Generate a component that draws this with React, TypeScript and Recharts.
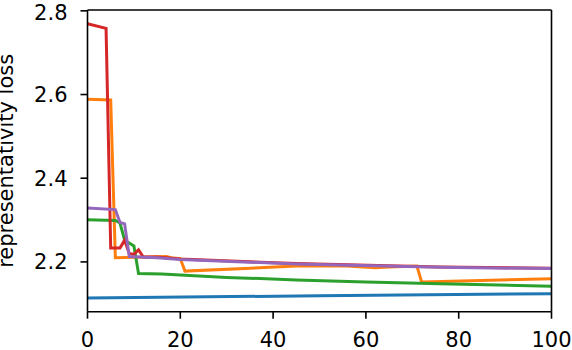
import { LineChart, Line, XAxis, YAxis, ReferenceLine } from "recharts";

// x positions and values for each run
const blueX = [0, 50, 100];
const blueY = [2.114, 2.119, 2.124];

const orangeX = [0, 5, 6, 17, 18, 20, 21, 45, 55, 62, 65, 71, 72, 100];
const orangeY = [2.589, 2.587, 2.21, 2.213, 2.21, 2.208, 2.178, 2.19, 2.191, 2.186, 2.188, 2.19, 2.152, 2.16];

const greenX = [0, 6, 7, 8, 10, 11, 16, 30, 45, 60, 76, 100];
const greenY = [2.301, 2.299, 2.293, 2.252, 2.238, 2.172, 2.171, 2.163, 2.157, 2.152, 2.148, 2.142];

const redX = [0, 4, 5, 7, 8, 9, 10, 11, 12, 15, 20, 45, 76, 100];
const redY = [2.769, 2.758, 2.233, 2.233, 2.252, 2.22, 2.218, 2.229, 2.212, 2.212, 2.207, 2.196, 2.188, 2.185];

const purpleX = [0, 6, 7, 8, 9, 15, 20, 45, 76, 100];
const purpleY = [2.329, 2.325, 2.294, 2.291, 2.213, 2.21, 2.206, 2.195, 2.187, 2.184];

const xTicks = [0, 20, 40, 60, 80, 100];
const yTicks = [2.2, 2.4, 2.6, 2.8];

const toPoints = (xs: number[], ys: number[]) => xs.map((x, i) => ({ x, y: ys[i] }));

const series = [
  { name: "run0", color: "#1f77b4", data: toPoints(blueX, blueY) },
  { name: "run1", color: "#ff7f0e", data: toPoints(orangeX, orangeY) },
  { name: "run2", color: "#2ca02c", data: toPoints(greenX, greenY) },
  { name: "run3", color: "#d62728", data: toPoints(redX, redY) },
  { name: "run4", color: "#9467bd", data: toPoints(purpleX, purpleY) },
];

const font = { fill: "#000", fontSize: 21, fontFamily: "DejaVu Sans" };
const axisLine = { stroke: "#000", strokeWidth: 1.6 };

function YLabel(props: any) {
  const { viewBox } = props;
  const cy = viewBox.y + viewBox.height / 2;
  return (
    <text
      x={13.5}
      y={cy}
      transform={`rotate(-90, 13.5, ${cy})`}
      textAnchor="middle"
      fontSize={21}
      fontFamily="DejaVu Sans"
      fill="#000"
    >
      representativity loss
    </text>
  );
}

export default function App() {
  return (
    <div style={{ position: "absolute", left: 0, top: 0, background: "#fff" }}>
      <LineChart
        width={572}
        height={350}
        margin={{ top: 10, right: 20.5, left: 0, bottom: 0 }}
      >
        <XAxis
          dataKey="x"
          type="number"
          domain={[0, 100]}
          ticks={xTicks}
          allowDuplicatedCategory={false}
          height={38.3}
          tickSize={7}
          tickMargin={13}
          axisLine={axisLine}
          tickLine={axisLine}
          tick={font}
        />
        <YAxis
          type="number"
          domain={[2.081, 2.802]}
          ticks={yTicks}
          width={87.5}
          tickSize={7}
          tickMargin={13}
          tickFormatter={(v) => v.toFixed(1)}
          axisLine={axisLine}
          tickLine={axisLine}
          tick={font}
          label={<YLabel />}
        />
        {series.map((s) => (
          <Line
            key={s.name}
            data={s.data}
            dataKey="y"
            type="linear"
            stroke={s.color}
            strokeWidth={3}
            dot={false}
            activeDot={false}
            isAnimationActive={false}
          />
        ))}
        <ReferenceLine y={2.802} stroke="#000" strokeWidth={1.6} />
        <ReferenceLine x={100} stroke="#000" strokeWidth={1.6} />
      </LineChart>
    </div>
  );
}
